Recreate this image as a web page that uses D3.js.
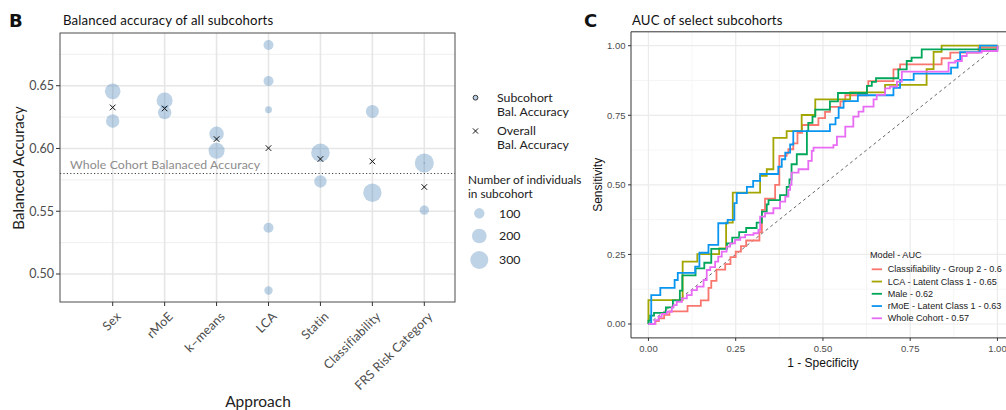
<!DOCTYPE html>
<html><head><meta charset="utf-8">
<script src="https://cdn.jsdelivr.net/npm/d3@7"></script>
<style>body{margin:0;background:#fff}svg{display:block}</style>
</head><body>
<svg id="chart" width="1006" height="410"></svg>
<script>
// ---------------- DATA ----------------
const categories = ["Sex","rMoE","k\u2013means","LCA","Statin","Classifiability","FRS Risk Category"];
const yTicksB = [0.50,0.55,0.60,0.65];
const subApproach = ["Sex","Sex","rMoE","rMoE","k\u2013means","k\u2013means","LCA","LCA","LCA","LCA","LCA","Statin","Statin","Classifiability","Classifiability","FRS Risk Category","FRS Risk Category","FRS Risk Category"];
const subBalAcc  = [0.6455,0.6219,0.6383,0.6287,0.6117,0.5982,0.6824,0.6537,0.6309,0.5368,0.4869,0.5966,0.5737,0.6295,0.5647,0.5884,0.5509,0.5884];
const subN       = [225,166,237,166,197,237,93,93,45,93,65,320,142,156,313,334,82,3];
const overallBalAcc = [0.6327,0.6319,0.6075,0.6003,0.5916,0.5897,0.5693];
const wholeCohortBalAcc = 0.5801;
const sizeLegend = [100,200,300];

const xTicksC = [0,0.25,0.5,0.75,1];
const yTicksC = [0,0.25,0.5,0.75,1];
const rocModels = ["Classifiability - Group 2 - 0.6","LCA - Latent Class 1 - 0.65","Male - 0.62","rMoE - Latent Class 1 - 0.63","Whole Cohort - 0.57"];
const rocColors = ["#F8766D","#A3A500","#00A65A","#0A95F0","#E76BF3"];
// points = (1 - specificity, sensitivity) at the top of each rise
const rocClassifiability = [[0,0],[0.02,0.01],[0.03,0.02],[0.045,0.033],[0.06,0.045],[0.112,0.065],[0.15,0.085],[0.172,0.13],[0.18,0.155],[0.195,0.195],[0.22,0.215],[0.235,0.24],[0.25,0.26],[0.265,0.28],[0.28,0.3],[0.318,0.33],[0.325,0.41],[0.334,0.45],[0.363,0.5],[0.375,0.604],[0.396,0.613],[0.401,0.628],[0.415,0.649],[0.427,0.687],[0.44,0.715],[0.487,0.74],[0.506,0.762],[0.52,0.78],[0.55,0.8],[0.564,0.822],[0.626,0.855],[0.63,0.873],[0.702,0.915],[0.721,0.933],[0.84,0.955],[0.865,0.975],[0.946,0.993],[1,1]];
const rocLCA = [[0,0],[0,0.086],[0.098,0.224],[0.14,0.251],[0.2025,0.272],[0.2225,0.364],[0.2416,0.472],[0.32,0.532],[0.339,0.556],[0.358,0.669],[0.396,0.693],[0.439,0.751],[0.478,0.807],[0.578,0.832],[0.678,0.859],[0.797,0.916],[0.817,0.978],[0.84,1.0],[1,1]];
const rocMale = [[0,0],[0,0.012],[0.005,0.03],[0.016,0.04],[0.05,0.06],[0.07,0.085],[0.09,0.12],[0.097,0.175],[0.135,0.2],[0.16,0.22],[0.18,0.27],[0.225,0.29],[0.24,0.31],[0.26,0.33],[0.28,0.345],[0.31,0.364],[0.325,0.404],[0.339,0.43],[0.344,0.445],[0.377,0.463],[0.396,0.493],[0.404,0.52],[0.41,0.574],[0.425,0.61],[0.454,0.693],[0.458,0.723],[0.47,0.745],[0.478,0.77],[0.52,0.8],[0.543,0.83],[0.626,0.856],[0.64,0.87],[0.652,0.883],[0.716,0.915],[0.74,0.945],[0.754,0.957],[0.783,0.987],[1,1]];
const rocRMoE = [[0,0],[0.008,0.104],[0.034,0.13],[0.075,0.158],[0.084,0.184],[0.134,0.206],[0.146,0.256],[0.172,0.284],[0.2,0.362],[0.227,0.374],[0.246,0.434],[0.253,0.47],[0.282,0.493],[0.3,0.514],[0.32,0.539],[0.372,0.565],[0.382,0.592],[0.392,0.616],[0.406,0.645],[0.415,0.693],[0.52,0.717],[0.536,0.741],[0.545,0.777],[0.559,0.801],[0.6,0.822],[0.702,0.849],[0.721,0.877],[0.76,0.9],[0.867,0.921],[0.886,0.949],[0.893,0.977],[0.95,1.0],[1,1]];
const rocWhole = [[0,0],[0.01,0.0],[0.019,0.014],[0.029,0.026],[0.038,0.036],[0.053,0.044],[0.067,0.06],[0.072,0.068],[0.081,0.08],[0.096,0.092],[0.11,0.104],[0.124,0.122],[0.139,0.134],[0.158,0.158],[0.167,0.194],[0.177,0.204],[0.191,0.224],[0.2,0.242],[0.21,0.26],[0.224,0.278],[0.234,0.29],[0.248,0.302],[0.263,0.311],[0.277,0.32],[0.301,0.326],[0.315,0.338],[0.32,0.386],[0.334,0.398],[0.358,0.416],[0.377,0.44],[0.392,0.458],[0.401,0.482],[0.406,0.5],[0.41,0.544],[0.43,0.556],[0.458,0.586],[0.468,0.622],[0.473,0.634],[0.53,0.643],[0.54,0.673],[0.564,0.709],[0.587,0.745],[0.602,0.763],[0.616,0.781],[0.645,0.807],[0.654,0.823],[0.678,0.847],[0.692,0.853],[0.712,0.871],[0.726,0.907],[0.86,0.939],[0.879,0.945],[0.898,0.963],[0.912,0.975],[0.955,0.981],[1,1]];
const rocSeries = [rocClassifiability, rocLCA, rocMale, rocRMoE, rocWhole];

// ---------------- DRAW ----------------
const svg = d3.select("#chart");
const AV = "Lato, 'Open Sans', sans-serif";
const AR = "'Liberation Sans', Arial, sans-serif";

// ===== Panel B =====
const B = {l:60, r:455, t:33, b:302};
const xB = d3.scalePoint().domain(categories).range([112.7, 424.3]);
const yB = d3.scaleLinear().domain([0.4777, 0.692]).range([B.b, B.t]);
const rB = d3.scaleSqrt().domain([0,300]).range([0,9]);

const gB = svg.append("g");
const minorB = [0.525,0.575,0.625,0.675];
gB.selectAll(".mnB").data(minorB).join("line")
  .attr("x1",B.l).attr("x2",B.r).attr("y1",d=>yB(d)).attr("y2",d=>yB(d))
  .attr("stroke","#EBEBEB").attr("stroke-width",0.8);
gB.selectAll(".mjB").data(yTicksB).join("line")
  .attr("x1",B.l).attr("x2",B.r).attr("y1",d=>yB(d)).attr("y2",d=>yB(d))
  .attr("stroke","#E6E6E6").attr("stroke-width",1.6);
gB.selectAll(".vB").data(categories).join("line")
  .attr("x1",d=>xB(d)).attr("x2",d=>xB(d)).attr("y1",B.t).attr("y2",B.b)
  .attr("stroke","#E6E6E6").attr("stroke-width",1.6);

gB.append("line").attr("x1",B.l).attr("x2",B.r)
  .attr("y1",yB(wholeCohortBalAcc)).attr("y2",yB(wholeCohortBalAcc))
  .attr("stroke","#444").attr("stroke-width",1.1).attr("stroke-dasharray","1.2,2.2");
gB.append("text").attr("x",70).attr("y",yB(wholeCohortBalAcc)-4)
  .attr("font-family",AV).attr("font-size",12.3).attr("letter-spacing",0.1).attr("fill","#8c8c8c")
  .text("Whole Cohort Balanaced Accuracy");

const subIdx = d3.range(subApproach.length);
gB.selectAll(".sub").data(subIdx).join("circle")
  .attr("cx",i=>xB(subApproach[i])).attr("cy",i=>yB(subBalAcc[i]))
  .attr("r",i=>rB(subN[i]))
  .attr("fill","steelblue").attr("fill-opacity",0.35);

function cross(g, x, y, s){
  g.append("path").attr("d",`M${x-s},${y-s}L${x+s},${y+s}M${x-s},${y+s}L${x+s},${y-s}`)
   .attr("stroke","#111").attr("stroke-width",1);
}
categories.forEach((c,i)=>cross(gB, xB(c), yB(overallBalAcc[i]), 2.8));

gB.append("rect").attr("x",B.l).attr("y",B.t).attr("width",B.r-B.l).attr("height",B.b-B.t)
  .attr("fill","none").attr("stroke","#4d4d4d").attr("stroke-width",1);

yTicksB.forEach(v=>{
  gB.append("line").attr("x1",B.l-4).attr("x2",B.l).attr("y1",yB(v)).attr("y2",yB(v)).attr("stroke","#333").attr("stroke-width",1);
  gB.append("text").attr("x",B.l-6).attr("y",yB(v)).attr("dy","0.35em").attr("text-anchor","end")
    .attr("font-family",AV).attr("font-size",12.5).attr("fill","#4D4D4D").text(d3.format(".2f")(v));
});
categories.forEach(c=>{
  gB.append("line").attr("x1",xB(c)).attr("x2",xB(c)).attr("y1",B.b).attr("y2",B.b+4).attr("stroke","#333").attr("stroke-width",1);
  gB.append("text").attr("transform",`translate(${xB(c)+3},${B.b+9}) rotate(-45)`)
    .attr("text-anchor","end").attr("dy","0.7em")
    .attr("font-family",AV).attr("font-size",12.5).attr("letter-spacing",0.2).attr("fill","#4D4D4D").text(c);
});
gB.append("text").attr("x",258).attr("y",407).attr("text-anchor","middle")
  .attr("font-family",AV).attr("font-size",15.5).attr("fill","#222").text("Approach");
gB.append("text").attr("transform","translate(24,168) rotate(-90)").attr("text-anchor","middle")
  .attr("font-family",AV).attr("font-size",15).attr("fill","#222").text("Balanced Accuracy");
gB.append("text").attr("x",63).attr("y",25).attr("font-family",AV).attr("font-size",13.2).attr("letter-spacing",0.15).attr("fill","#111")
  .text("Balanced accuracy of all subcohorts");
svg.append("text").attr("x",9).attr("y",27).attr("font-family","'DejaVu Sans', sans-serif").attr("font-weight","bold")
  .attr("font-size",18).attr("fill","#111").text("B");

const lg = svg.append("g");
lg.append("circle").attr("cx",475.5).attr("cy",97.7).attr("r",2.4).attr("fill","#b9cfe5").attr("stroke","#333").attr("stroke-width",1);
cross(lg, 475.5, 131, 2.6);
[["Subcohort",101.8],["Bal. Accuracy",116.4],["Overall",135],["Bal. Accuracy",149.2]].forEach(d=>{
  lg.append("text").attr("x",497).attr("y",d[1]).attr("font-family",AV).attr("font-size",12.3).attr("fill","#222").text(d[0]);
});
lg.append("text").attr("x",468).attr("y",184).attr("font-family",AV).attr("font-size",11.8).attr("fill","#222").text("Number of individuals");
lg.append("text").attr("x",468).attr("y",198).attr("font-family",AV).attr("font-size",11.8).attr("fill","#222").text("in subcohort");
const legY = [213.3,236,260];
sizeLegend.forEach((n,i)=>{
  lg.append("circle").attr("cx",479.3).attr("cy",legY[i]).attr("r",rB(n)).attr("fill","steelblue").attr("fill-opacity",0.35);
  lg.append("text").attr("x",499).attr("y",legY[i]).attr("dy","0.35em").attr("font-family",AV).attr("font-size",12.3).attr("fill","#222").text(n);
});

// ===== Panel C =====
const C = {l:631, t:31.8, b:337.9};
const xC = d3.scaleLinear().domain([-0.05,1.05]).range([631, 631+1.1*349]);
const yC = d3.scaleLinear().domain([-0.05,1.05]).range([C.b, C.t]);
const gC = svg.append("g");
gC.append("clipPath").attr("id","clipC").append("rect")
  .attr("x",C.l).attr("y",C.t).attr("width",400).attr("height",C.b-C.t);
const minorC = [0.125,0.375,0.625,0.875];
const gridC = gC.append("g").attr("clip-path","url(#clipC)");
minorC.forEach(v=>{
  gridC.append("line").attr("x1",xC(v)).attr("x2",xC(v)).attr("y1",C.t).attr("y2",C.b).attr("stroke","#F2F2F2").attr("stroke-width",0.8);
  gridC.append("line").attr("y1",yC(v)).attr("y2",yC(v)).attr("x1",C.l).attr("x2",1006).attr("stroke","#F2F2F2").attr("stroke-width",0.8);
});
xTicksC.forEach(v=>{
  gridC.append("line").attr("x1",xC(v)).attr("x2",xC(v)).attr("y1",C.t).attr("y2",C.b).attr("stroke","#EBEBEB").attr("stroke-width",1.2);
});
yTicksC.forEach(v=>{
  gridC.append("line").attr("y1",yC(v)).attr("y2",yC(v)).attr("x1",C.l).attr("x2",1006).attr("stroke","#EBEBEB").attr("stroke-width",1.2);
});
gridC.append("line").attr("x1",xC(0)).attr("y1",yC(0)).attr("x2",xC(1)).attr("y2",yC(1))
  .attr("stroke","#555").attr("stroke-width",0.9).attr("stroke-dasharray","3,3");
const lineC = d3.line().x(d=>xC(d[0])).y(d=>yC(d[1])).curve(d3.curveStepAfter);
rocSeries.forEach((s,i)=>{
  gridC.append("path").attr("d",lineC(s)).attr("fill","none")
    .attr("stroke",rocColors[i]).attr("stroke-width",1.8);
});
gC.append("path").attr("d",`M1010,${C.t}H${C.l}V${C.b}H1010`).attr("fill","none").attr("stroke","#333").attr("stroke-width",1);
yTicksC.forEach(v=>{
  gC.append("line").attr("x1",C.l-3).attr("x2",C.l).attr("y1",yC(v)).attr("y2",yC(v)).attr("stroke","#333");
  gC.append("text").attr("x",C.l-5.5).attr("y",yC(v)).attr("dy","0.35em").attr("text-anchor","end")
    .attr("font-family",AR).attr("font-size",9.5).attr("fill","#4D4D4D").text(d3.format(".2f")(v));
});
xTicksC.forEach(v=>{
  gC.append("line").attr("x1",xC(v)).attr("x2",xC(v)).attr("y1",C.b).attr("y2",C.b+3).attr("stroke","#333");
  gC.append("text").attr("x",xC(v)).attr("y",C.b+14).attr("text-anchor","middle")
    .attr("font-family",AR).attr("font-size",9.5).attr("fill","#4D4D4D").text(d3.format(".2f")(v));
});
gC.append("text").attr("x",xC(0.5)).attr("y",367).attr("text-anchor","middle")
  .attr("font-family",AR).attr("font-size",12).attr("fill","#111").text("1 - Specificity");
gC.append("text").attr("transform",`translate(602,${yC(0.5)}) rotate(-90)`).attr("text-anchor","middle")
  .attr("font-family",AR).attr("font-size",12).attr("fill","#111").text("Sensitivity");
gC.append("text").attr("x",632).attr("y",25).attr("font-family",AV).attr("font-size",13.2).attr("letter-spacing",0.15).attr("fill","#111")
  .text("AUC of select subcohorts");
svg.append("text").attr("x",584).attr("y",27).attr("font-family","'DejaVu Sans', sans-serif").attr("font-weight","bold")
  .attr("font-size",18).attr("fill","#111").text("C");
const lgc = svg.append("g");
lgc.append("text").attr("x",870).attr("y",257.5).attr("font-family",AR).attr("font-size",9.1).attr("fill","#222").text("Model - AUC");
rocModels.forEach((m,i)=>{
  const y = 269.3 + i*12.25;
  lgc.append("line").attr("x1",871.7).attr("x2",882).attr("y1",y).attr("y2",y).attr("stroke",rocColors[i]).attr("stroke-width",1.8);
  lgc.append("text").attr("x",887.7).attr("y",y).attr("dy","0.35em").attr("font-family",AR).attr("font-size",9.1).attr("fill","#222").text(m);
});
</script>
</body></html>
